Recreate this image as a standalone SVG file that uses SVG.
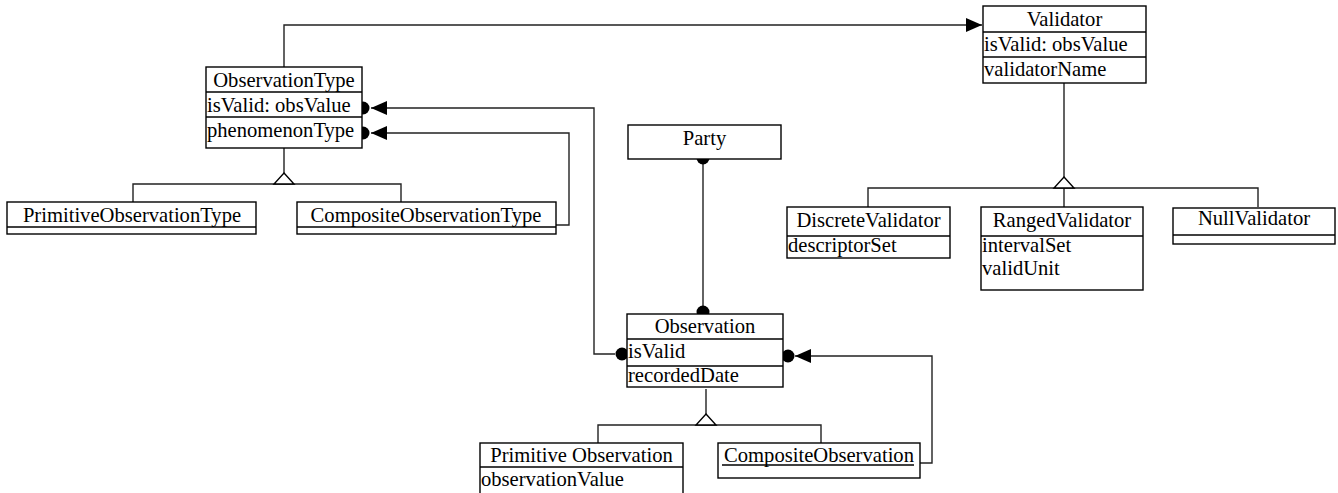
<svg xmlns="http://www.w3.org/2000/svg" xmlns:xlink="http://www.w3.org/1999/xlink" width="1338" height="493" viewBox="0 0 1338 493">
  <style>
    .box { fill: #fff; stroke: #000; stroke-width: 1.4; }
    .sep { stroke: #000; stroke-width: 1.4; }
    .edge { fill: none; stroke: #222; stroke-width: 1.4; }
    .dot { fill: #000; }
    .hollow { fill: #fff; stroke: #000; stroke-width: 1.4; }
    text { font-family: "Liberation Serif", "Times New Roman", serif; font-size: 20.6px; fill: #000; }
    .title { text-anchor: middle; }
  </style>
  <defs>
    <marker id="arrow" viewBox="0 0 16 14" refX="16" refY="7" markerWidth="16" markerHeight="14" markerUnits="userSpaceOnUse" orient="auto">
      <path d="M0,0 L16,7 L0,14 Z" fill="#000"/>
    </marker>
    <!-- open generalization triangle, apex at origin -->
    <path id="gen" d="M0,0 L10,11 L-10,11 Z" class="hollow"/>
  </defs>

  <g id="connectors">
    <!-- ObservationType -> Validator -->
    <path class="edge" d="M284,67 V25 H982" marker-end="url(#arrow)"/>
    <!-- Observation.isValid -> ObservationType.isValid -->
    <path class="edge" d="M615,354 H594 V108 H371" marker-end="url(#arrow)"/>
    <circle class="dot" cx="622" cy="354" r="6.5"/>
    <circle class="dot" cx="363" cy="108" r="6.5"/>
    <!-- CompositeObservationType -> ObservationType.phenomenonType -->
    <path class="edge" d="M556,225 H569 V133 H371" marker-end="url(#arrow)"/>
    <circle class="dot" cx="363" cy="133" r="6.5"/>
    <!-- Party - Observation -->
    <path class="edge" d="M703,158 V312"/>
    <circle class="dot" cx="703" cy="158" r="6.5"/>
    <circle class="dot" cx="703" cy="312" r="6.5"/>
    <!-- CompositeObservation -> Observation.isValid -->
    <path class="edge" d="M920,463 H932 V356 H795" marker-end="url(#arrow)"/>
    <circle class="dot" cx="788" cy="356" r="6.5"/>

    <!-- ObservationType generalization -->
    <path class="edge" d="M284,148 V173 M133,202 V184 H401 V202"/>
    <use xlink:href="#gen" href="#gen" x="284" y="173"/>
    <!-- Validator generalization -->
    <path class="edge" d="M1064,83 V177 M868,207 V188 H1258 V207 M1064,188 V207"/>
    <use xlink:href="#gen" href="#gen" x="1064" y="177"/>
    <!-- Observation generalization -->
    <path class="edge" d="M706,389 V414 M598,443 V425 H821 V443"/>
    <use xlink:href="#gen" href="#gen" x="706" y="414"/>
  </g>

  <g id="ObservationType">
    <rect class="box" x="206" y="67" width="156" height="81"/>
    <line class="sep" x1="206" y1="92" x2="362" y2="92"/>
    <line class="sep" x1="206" y1="117" x2="362" y2="117"/>
    <text class="title" x="284" y="87">ObservationType</text>
    <text x="207" y="112">isValid: obsValue</text>
    <text x="207" y="137">phenomenonType</text>
  </g>

  <g id="PrimitiveObservationType">
    <rect class="box" x="7" y="202" width="249" height="32"/>
    <line class="sep" x1="7" y1="227" x2="256" y2="227"/>
    <text class="title" x="132" y="222">PrimitiveObservationType</text>
  </g>

  <g id="CompositeObservationType">
    <rect class="box" x="297" y="202" width="259" height="32"/>
    <line class="sep" x1="297" y1="227" x2="556" y2="227"/>
    <text class="title" x="426" y="222">CompositeObservationType</text>
  </g>

  <g id="Validator">
    <rect class="box" x="983" y="6" width="163" height="77"/>
    <line class="sep" x1="983" y1="32" x2="1146" y2="32"/>
    <line class="sep" x1="983" y1="57" x2="1146" y2="57"/>
    <text class="title" x="1064.5" y="26">Validator</text>
    <text x="984" y="51">isValid: obsValue</text>
    <text x="984" y="76">validatorName</text>
  </g>

  <g id="DiscreteValidator">
    <rect class="box" x="787" y="207" width="163" height="51"/>
    <line class="sep" x1="787" y1="236" x2="950" y2="236"/>
    <text class="title" x="868.5" y="227">DiscreteValidator</text>
    <text x="788" y="252">descriptorSet</text>
  </g>

  <g id="RangedValidator">
    <rect class="box" x="981" y="207" width="162" height="83"/>
    <line class="sep" x1="981" y1="236" x2="1143" y2="236"/>
    <text class="title" x="1062" y="227">RangedValidator</text>
    <text x="982" y="252">intervalSet</text>
    <text x="982" y="275">validUnit</text>
  </g>

  <g id="NullValidator">
    <rect class="box" x="1173" y="208" width="162" height="36"/>
    <line class="sep" x1="1173" y1="235" x2="1335" y2="235"/>
    <text class="title" x="1254" y="225">NullValidator</text>
  </g>

  <g id="Party">
    <rect class="box" x="628" y="125" width="153" height="34"/>
    <text class="title" x="704.5" y="145">Party</text>
  </g>

  <g id="Observation">
    <rect class="box" x="627" y="314" width="156" height="73"/>
    <line class="sep" x1="627" y1="339" x2="783" y2="339"/>
    <line class="sep" x1="627" y1="366" x2="783" y2="366"/>
    <text class="title" x="705" y="333">Observation</text>
    <text x="628" y="358">isValid</text>
    <text x="628" y="382">recordedDate</text>
  </g>

  <g id="PrimitiveObservation">
    <rect class="box" x="480" y="443" width="203" height="60"/>
    <line class="sep" x1="480" y1="467" x2="683" y2="467"/>
    <text class="title" x="581.5" y="462">Primitive Observation</text>
    <text x="481" y="486">observationValue</text>
  </g>

  <g id="CompositeObservation">
    <rect class="box" x="718" y="443" width="202" height="35"/>
    <line class="sep" x1="722" y1="465" x2="914" y2="465"/>
    <text class="title" x="819" y="462">CompositeObservation</text>
  </g>
</svg>
